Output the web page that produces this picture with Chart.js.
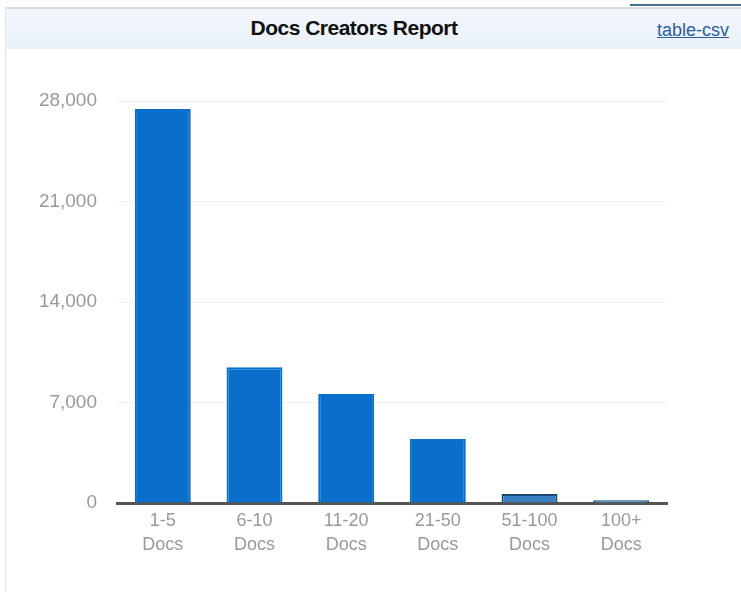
<!DOCTYPE html>
<html>
<head>
<meta charset="utf-8">
<script src="https://cdn.jsdelivr.net/npm/chart.js@4/dist/chart.umd.min.js"></script>
<style>
  html, body { margin: 0; padding: 0; background: #fff; }
  body { width: 741px; height: 592px; position: relative; overflow: hidden; font-family: "Liberation Sans", Arial, sans-serif; }
  #frame { position: absolute; left: 5px; top: 7px; width: 740px; height: 600px; border-left: 1px solid #dfe4e8; border-top: 2px solid #d8dde2; }
  #header { position: absolute; left: 6px; top: 9px; width: 735px; height: 40px; background: linear-gradient(#f2f7fc, #e9f1f8); }
  #title { position: absolute; left: 0; width: 708px; top: 16px; text-align: center; font-weight: bold; font-size: 21px; color: #111; letter-spacing: -0.5px; }
  #csv { position: absolute; right: 12px; top: 20px; font-size: 18px; color: #2a5d9a; text-decoration: underline; }
  #topline { position: absolute; left: 630px; top: 4px; width: 111px; height: 2px; background: #4a6f90; }
  #wrap { position: absolute; left: 0; top: 0; width: 741px; height: 592px; }
</style>
</head>
<body>
<div id="frame"></div>
<div id="header"></div>
<div id="topline"></div>
<div id="title">Docs Creators Report</div>
<div id="csv">table-csv</div>
<div id="wrap"><canvas id="chart"></canvas></div>
<script>
// --- Chart data ---
const categories = [["1-5", "Docs"], ["6-10", "Docs"], ["11-20", "Docs"], ["21-50", "Docs"], ["51-100", "Docs"], ["100+", "Docs"]];
const creators = [27450, 9450, 7600, 4450, 620, 200];
const yTicks = [0, 7000, 14000, 21000, 28000];

const barFill = "#0a6fca";
const fills = creators.map(v => v < 1000 ? "#3a7fc0" : barFill);
const borders = creators.map(v => v < 1000 ? "#1b4a6e" : barFill);

new Chart(document.getElementById("chart"), {
  type: "bar",
  data: {
    labels: categories,
    datasets: [{
      data: creators,
      backgroundColor: fills,
      borderColor: borders,
      borderWidth: 2,
      borderSkipped: "bottom",
      barPercentage: 0.61,
      categoryPercentage: 1.0
    }]
  },
  options: {
    responsive: true,
    maintainAspectRatio: false,
    animation: false,
    layout: { padding: { top: 101, right: 74, left: 0, bottom: 29 } },
    plugins: { legend: { display: false }, tooltip: { enabled: false } },
    scales: {
      x: {
        grid: { display: false, drawTicks: false },
        border: { display: true, color: "#555", width: 3 },
        ticks: {
          color: "#999",
          font: { family: "Liberation Sans", size: 18, lineHeight: 1.33 },
          padding: 6,
          maxRotation: 0
        },
        afterFit: (scale) => { scale.height = 60; }
      },
      y: {
        min: 0,
        max: 28000,
        afterBuildTicks: (scale) => { scale.ticks = yTicks.map(v => ({ value: v })); },
        grid: { color: "#f0f0f0", drawTicks: false },
        border: { display: false },
        ticks: {
          color: "#999",
          font: { family: "Liberation Sans", size: 19 },
          padding: 20,
          callback: (v) => v.toLocaleString("en-US")
        },
        afterFit: (scale) => { scale.width = 117; }
      }
    }
  }
});
</script>
</body>
</html>
